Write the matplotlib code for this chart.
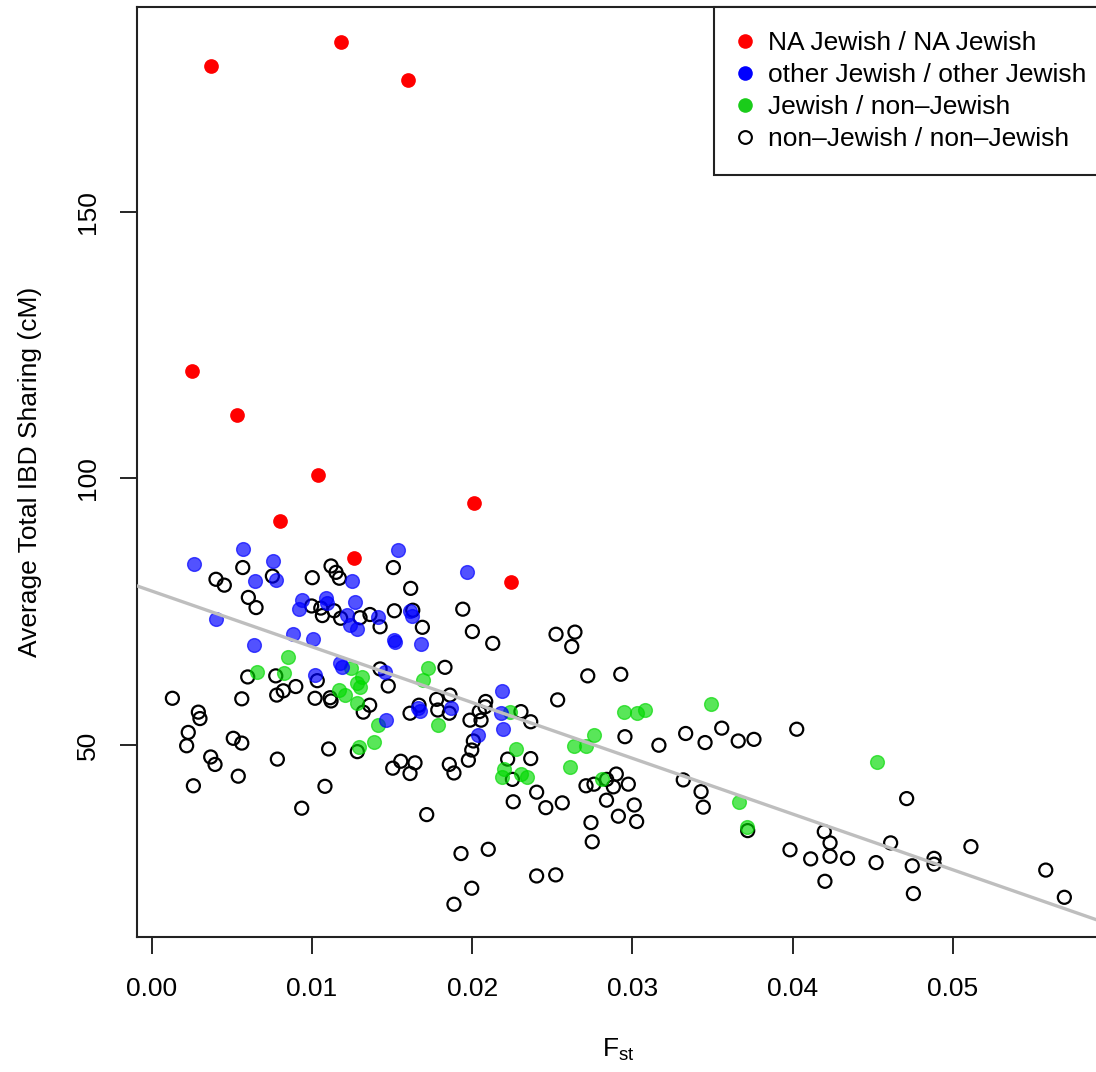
import matplotlib
matplotlib.use("Agg")
import matplotlib.pyplot as plt
from matplotlib.lines import Line2D

plt.rcParams['font.family'] = ['Liberation Sans', 'DejaVu Sans']
plt.rcParams['mathtext.fontset'] = 'custom'
plt.rcParams['mathtext.rm'] = 'Liberation Sans'
plt.rcParams['mathtext.it'] = 'Liberation Sans'

# ---- data: pairwise Fst vs average total IBD sharing (cM) ----
na_fst = [0.0037, 0.0118, 0.0160, 0.0025, 0.0053, 0.0104, 0.0080, 0.0201, 0.0126, 0.0224]
na_ibd = [177.3, 181.8, 174.7, 120.1, 111.8, 100.7, 92.0, 95.4, 85.0, 80.5]

oj_fst = [0.00266, 0.00572, 0.00759, 0.00645, 0.00774, 0.01252, 0.01269, 0.00936, 0.00921, 0.01086,
          0.01094, 0.01217, 0.01237, 0.01279, 0.01409, 0.00399, 0.00884, 0.01005, 0.00638, 0.01175,
          0.01186, 0.01019, 0.01539, 0.01966, 0.01612, 0.01622, 0.01512, 0.01518, 0.01680, 0.01456,
          0.01664, 0.01674, 0.01868, 0.01460, 0.02188, 0.02180, 0.02190, 0.02034]
oj_ibd = [84.0, 86.8, 84.6, 80.8, 81.0, 80.8, 76.9, 77.3, 75.5, 77.6,
          76.6, 74.4, 72.5, 71.7, 74.0, 73.7, 70.8, 70.0, 68.8, 65.5,
          64.7, 63.2, 86.6, 82.5, 75.2, 74.2, 69.8, 69.4, 68.9, 63.8,
          56.9, 56.5, 56.9, 54.7, 60.2, 56.0, 53.0, 51.9]

jn_fst = [0.00849, 0.00659, 0.00826, 0.01242, 0.01314, 0.01279, 0.01300, 0.01171, 0.01206, 0.01279,
          0.01412, 0.01390, 0.01295, 0.01726, 0.01695, 0.01788, 0.02236, 0.02273, 0.02200, 0.02184,
          0.02303, 0.02340, 0.02762, 0.02637, 0.02710, 0.02610, 0.02811, 0.02947, 0.03030, 0.03078,
          0.03490, 0.03667, 0.03717, 0.04528]
jn_ibd = [66.6, 63.8, 63.5, 64.4, 62.8, 61.6, 61.0, 60.3, 59.4, 57.9,
          53.7, 50.6, 49.6, 64.5, 62.3, 53.7, 56.3, 49.3, 45.5, 44.0,
          44.7, 44.0, 52.0, 49.8, 49.8, 46.0, 43.6, 56.3, 56.0, 56.6,
          57.7, 39.4, 34.7, 46.8]

nn_fst = [0.00401, 0.00453, 0.00568, 0.00603, 0.00651, 0.00753, 0.01002, 0.01119, 0.01150, 0.01171,
          0.00998, 0.01055, 0.01065, 0.01138, 0.01179, 0.01300, 0.01362, 0.01425, 0.01425, 0.00599,
          0.00774, 0.00780, 0.00821, 0.00899, 0.01033, 0.00129, 0.00562, 0.01019, 0.01113, 0.01119,
          0.01360, 0.01320, 0.00291, 0.00301, 0.00228, 0.00218, 0.00509, 0.00562, 0.00368, 0.00395,
          0.00784, 0.01104, 0.00540, 0.00260, 0.01081, 0.01283, 0.00936, 0.01508, 0.01616, 0.01514,
          0.01629, 0.01689, 0.01941, 0.02001, 0.02128, 0.02523, 0.02641, 0.02621, 0.01830, 0.01476,
          0.02721, 0.02927, 0.01778, 0.01861, 0.01785, 0.01857, 0.01612, 0.01668, 0.02084, 0.02080,
          0.02044, 0.02055, 0.01986, 0.02304, 0.02365, 0.02533, 0.02007, 0.01997, 0.01976, 0.02221,
          0.02365, 0.01554, 0.01504, 0.01643, 0.01612, 0.01857, 0.01886, 0.02251, 0.02710, 0.02760,
          0.02839, 0.02899, 0.02881, 0.02256, 0.02402, 0.02459, 0.02562, 0.02838, 0.02912, 0.02741,
          0.02749, 0.01716, 0.01930, 0.02100, 0.02402, 0.02521, 0.01997, 0.01886, 0.02953, 0.03165,
          0.03332, 0.03453, 0.03557, 0.03660, 0.03758, 0.04025, 0.02974, 0.03011, 0.03026, 0.03317,
          0.03428, 0.03442, 0.03719, 0.03983, 0.04112, 0.04197, 0.04233, 0.04233, 0.04342, 0.04201,
          0.04711, 0.04611, 0.04520, 0.04746, 0.04882, 0.04882, 0.05112, 0.04753, 0.05579, 0.05695]
nn_ibd = [81.1, 80.0, 83.3, 77.7, 75.8, 81.7, 81.4, 83.6, 82.4, 81.3,
          76.1, 75.7, 74.3, 75.2, 73.8, 73.9, 74.5, 72.2, 64.3, 62.8,
          63.0, 59.4, 60.2, 61.0, 62.1, 58.8, 58.7, 58.8, 58.9, 58.3,
          57.5, 56.2, 56.2, 55.0, 52.4, 49.9, 51.3, 50.4, 47.8, 46.4,
          47.4, 49.3, 44.2, 42.4, 42.3, 48.8, 38.2, 83.3, 79.4, 75.2,
          75.3, 72.1, 75.5, 71.3, 69.1, 70.8, 71.2, 68.5, 64.6, 61.1,
          63.0, 63.3, 58.6, 59.4, 56.6, 56.0, 56.0, 57.5, 58.2, 57.2,
          56.3, 54.7, 54.7, 56.3, 54.4, 58.5, 50.8, 49.1, 47.2, 47.4,
          47.5, 47.0, 45.7, 46.7, 44.7, 46.4, 44.8, 43.6, 42.4, 42.7,
          43.6, 44.6, 42.2, 39.4, 41.2, 38.3, 39.2, 39.7, 36.7, 35.5,
          31.9, 37.0, 29.7, 30.5, 25.5, 25.7, 23.2, 20.2, 51.6, 50.0,
          52.2, 50.5, 53.2, 50.8, 51.1, 53.0, 42.7, 38.8, 35.7, 43.5,
          41.3, 38.4, 34.0, 30.4, 28.7, 33.8, 31.7, 29.2, 28.8, 24.5,
          40.0, 31.7, 28.0, 27.4, 28.8, 27.7, 31.0, 22.2, 26.6, 21.5]

# regression line (intercept, slope)
fit_intercept = 78.9
fit_slope = -1045.0

x_ticks = [0.00, 0.01, 0.02, 0.03, 0.04, 0.05]
x_ticklabels = ["0.00", "0.01", "0.02", "0.03", "0.04", "0.05"]
y_ticks = [50, 100, 150]
y_ticklabels = ["50", "100", "150"]

legend_labels = ["NA Jewish / NA Jewish", "other Jewish / other Jewish",
                 "Jewish / non\u2013Jewish", "non\u2013Jewish / non\u2013Jewish"]

# ---- figure ----
W, H = 1096, 1072
fig = plt.figure(figsize=(W / 100, H / 100), dpi=100)
ax = fig.add_axes([136.5 / W, 1 - 937 / H, (1100 - 136.5) / W, (937 - 7.3) / H])

blue_c = (0.0, 0.0, 1.0, 0.68)
green_c = (0.0, 0.85, 0.0, 0.65)

ax.scatter(nn_fst, nn_ibd, s=88, facecolors='none', edgecolors='black', linewidths=1.6, zorder=2)
ax.scatter(jn_fst, jn_ibd, s=98, color=green_c, edgecolors=green_c, linewidths=1.0, zorder=3)
ax.scatter(oj_fst, oj_ibd, s=98, color=blue_c, edgecolors=blue_c, linewidths=1.0, zorder=4)
ax.scatter(na_fst, na_ibd, s=112, color='red', linewidths=0, zorder=5)

ax.axline((0.0, fit_intercept), slope=fit_slope, color='#bebebe', lw=2.4, zorder=6)

ax.set_xlim(-0.00095, 0.059175)
ax.set_ylim(14.06, 188.3)

ax.set_xticks(x_ticks)
ax.set_xticklabels(x_ticklabels)
ax.set_yticks(y_ticks)
ax.set_yticklabels(y_ticklabels)
ax.tick_params(axis='both', direction='out', length=12.5, width=1.2, labelsize=19, color='black')
ax.tick_params(axis='x', pad=16)
ax.tick_params(axis='y', pad=14, labelrotation=90)
for lbl in ax.get_yticklabels():
    lbl.set_va('center')

for sp in ax.spines.values():
    sp.set_linewidth(1.5)
    sp.set_color('#222222')

ax.set_ylabel("Average Total IBD Sharing (cM)", fontsize=19)
ax.yaxis.set_label_coords((42.3 - 136.5) / 963.5, 0.5)
ax.set_xlabel(r"$\mathregular{F_{st}}$", fontsize=19)
ax.xaxis.label.set_va('baseline')
ax.xaxis.set_label_coords(0.5, (937 - 1057) / 929.7)

handles = [
    Line2D([], [], ls='none', marker='o', markersize=10.5, markerfacecolor='red', markeredgecolor='red', markeredgewidth=0),
    Line2D([], [], ls='none', marker='o', markersize=10.5, markerfacecolor='blue', markeredgecolor='blue', markeredgewidth=0),
    Line2D([], [], ls='none', marker='o', markersize=10.5, markerfacecolor=(0.1, 0.8, 0.1), markeredgecolor=(0.1, 0.8, 0.1), markeredgewidth=0),
    Line2D([], [], ls='none', marker='o', markersize=9.2, markerfacecolor='none', markeredgecolor='black', markeredgewidth=1.5),
]
leg = ax.legend(handles, legend_labels, loc='upper right', bbox_to_anchor=(1.011, 1.0),
                borderaxespad=0, fontsize=19, fancybox=False, framealpha=1,
                edgecolor='#222222', handlelength=0.55, handletextpad=0.6,
                borderpad=0.9, labelspacing=0.3)
leg.get_frame().set_linewidth(1.5)
leg.set_zorder(10)

fig.savefig("out.png", dpi=100)
